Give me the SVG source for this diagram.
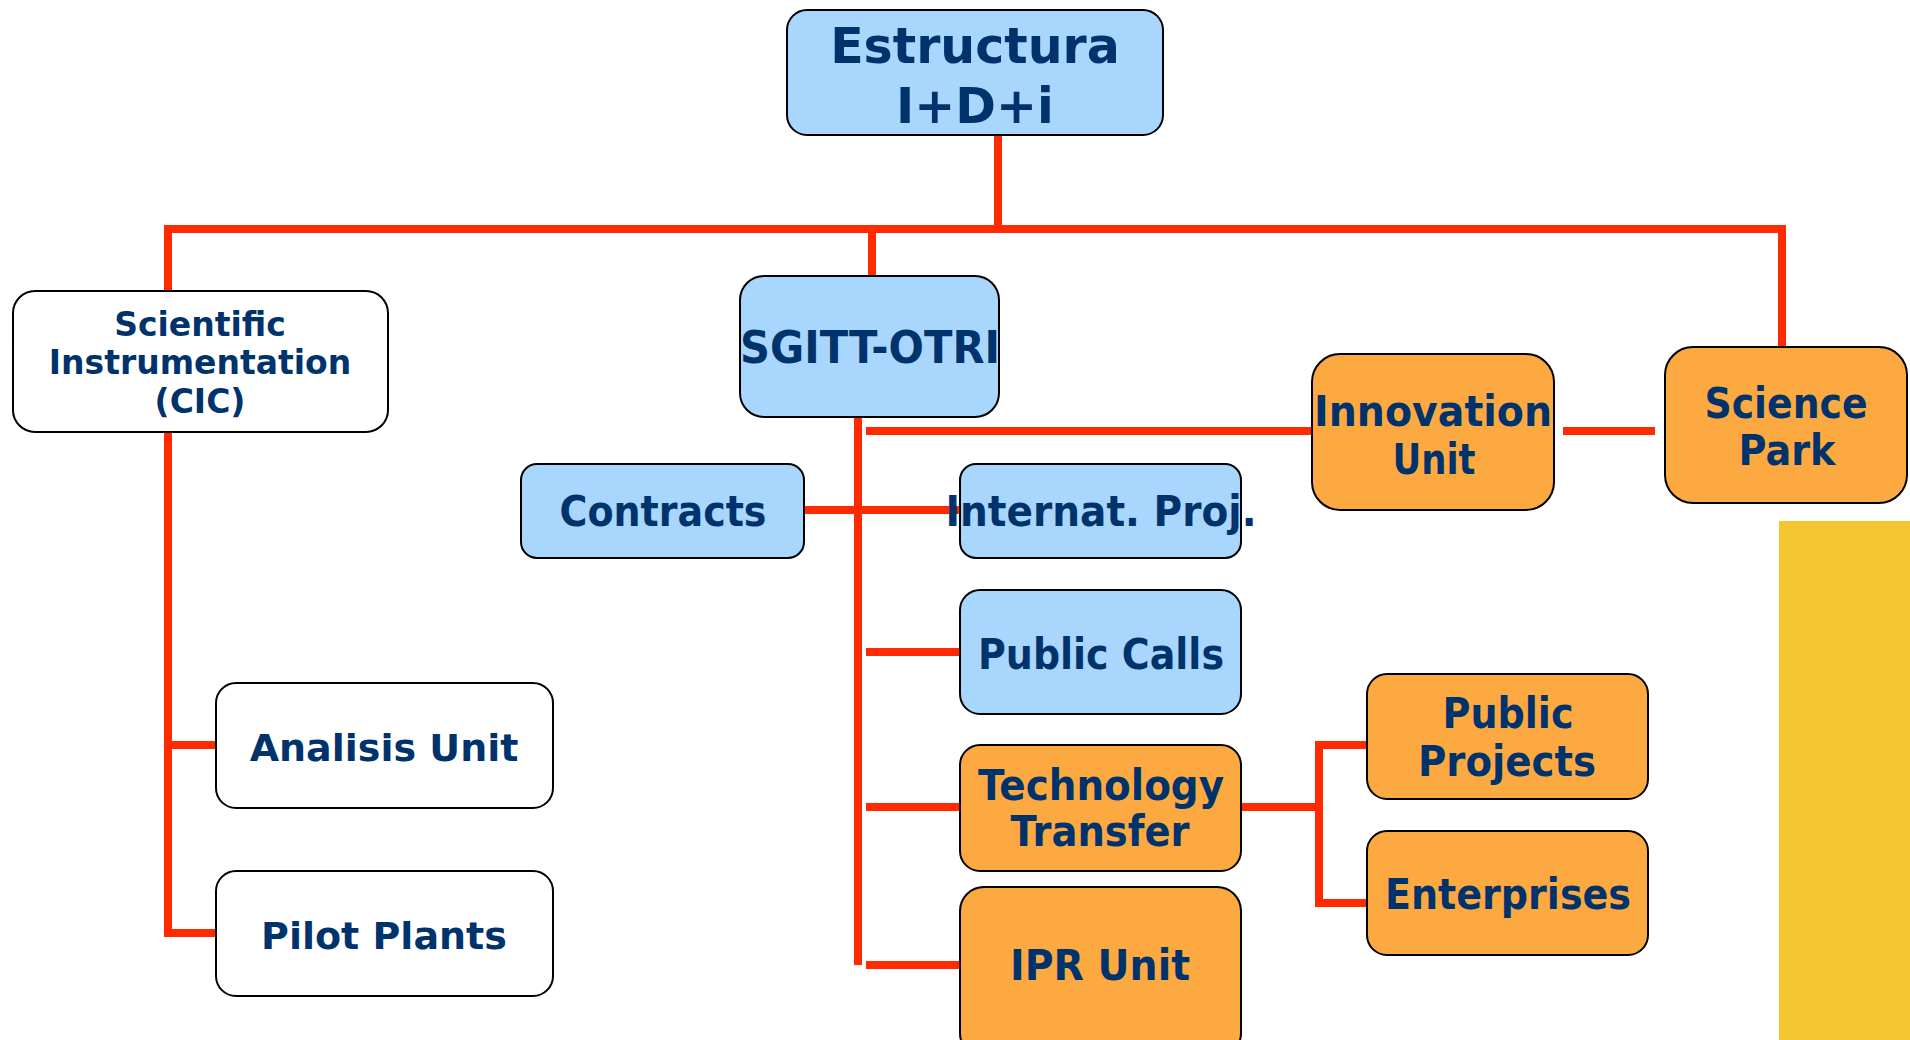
<svg xmlns="http://www.w3.org/2000/svg" width="1910" height="1040" viewBox="0 0 1910 1040">
<style>
.box{stroke:#000;stroke-width:2}
.blue{fill:#A9D6FD}
.orange{fill:#FDA942}
.white{fill:#fff}
.t{font-family:"DejaVu Sans","Verdana",sans-serif;font-weight:bold;fill:#00336B;text-anchor:middle}
.ln{stroke:#FF2A00;stroke-width:8;fill:none;stroke-linecap:butt}
</style>
<rect width="1910" height="1040" fill="#fff"/>
<rect x="1779" y="521" width="131" height="519" fill="#F3C52E"/>
<g id="connectors">
<line class="ln" x1="998" y1="135" x2="998" y2="229"/>
<line class="ln" x1="168" y1="229" x2="1786" y2="229"/>
<line class="ln" x1="168" y1="225" x2="168" y2="291"/>
<line class="ln" x1="872" y1="225" x2="872" y2="276"/>
<line class="ln" x1="1782" y1="225" x2="1782" y2="353"/>
<line class="ln" x1="168" y1="432" x2="168" y2="937"/>
<line class="ln" x1="164" y1="745" x2="216" y2="745"/>
<line class="ln" x1="164" y1="933" x2="216" y2="933"/>
<line class="ln" x1="858" y1="417" x2="858" y2="965"/>
<line class="ln" x1="866" y1="431" x2="1312" y2="431"/>
<line class="ln" x1="1563" y1="431" x2="1655" y2="431"/>
<line class="ln" x1="804" y1="510" x2="960" y2="510"/>
<line class="ln" x1="866" y1="652" x2="960" y2="652"/>
<line class="ln" x1="866" y1="807" x2="960" y2="807"/>
<line class="ln" x1="866" y1="965" x2="960" y2="965"/>
<line class="ln" x1="1241" y1="807" x2="1319" y2="807"/>
<polyline class="ln" points="1367,745 1319,745 1319,903 1367,903"/>
</g>
<g id="estructura">
<rect class="box blue" x="787" y="10" width="376" height="125" rx="20"/>
<text class="t" x="975" y="63" font-size="49">Estructura</text>
<text class="t" x="975" y="123" font-size="49">I+D+i</text>
</g>
<g id="cic">
<rect class="box white" x="13" y="291" width="375" height="141" rx="22"/>
<text class="t" x="200" y="336" font-size="33">Scientific</text>
<text class="t" x="200" y="374" font-size="33">Instrumentation</text>
<text class="t" x="200" y="413" font-size="33">(CIC)</text>
</g>
<g id="analisis">
<rect class="box white" x="216" y="683" width="337" height="125" rx="20"/>
<text class="t" x="384" y="761" font-size="38">Analisis Unit</text>
</g>
<g id="pilot">
<rect class="box white" x="216" y="871" width="337" height="125" rx="20"/>
<text class="t" x="384" y="949" font-size="38">Pilot Plants</text>
</g>
<g id="sgitt">
<rect class="box blue" x="740" y="276" width="259" height="141" rx="24"/>
<text class="t" x="870" y="363" font-size="44" textLength="260" lengthAdjust="spacingAndGlyphs">SGITT-OTRI</text>
</g>
<g id="contracts">
<rect class="box blue" x="521" y="464" width="283" height="94" rx="16"/>
<text class="t" x="663" y="526" font-size="42" textLength="207" lengthAdjust="spacingAndGlyphs">Contracts</text>
</g>
<g id="internat">
<rect class="box blue" x="960" y="464" width="281" height="94" rx="16"/>
<text class="t" x="1101" y="526" font-size="42" textLength="311" lengthAdjust="spacingAndGlyphs">Internat. Proj.</text>
</g>
<g id="publiccalls">
<rect class="box blue" x="960" y="590" width="281" height="124" rx="20"/>
<text class="t" x="1101" y="669" font-size="42" textLength="246" lengthAdjust="spacingAndGlyphs">Public Calls</text>
</g>
<g id="techtransfer">
<rect class="box orange" x="960" y="745" width="281" height="126" rx="20"/>
<text class="t" x="1101" y="800" font-size="42" textLength="246" lengthAdjust="spacingAndGlyphs">Technology</text>
<text class="t" x="1100" y="846" font-size="42" textLength="179" lengthAdjust="spacingAndGlyphs">Transfer</text>
</g>
<g id="ipr">
<rect class="box orange" x="960" y="887" width="281" height="170" rx="24"/>
<text class="t" x="1100" y="980" font-size="42" textLength="180" lengthAdjust="spacingAndGlyphs">IPR Unit</text>
</g>
<g id="publicprojects">
<rect class="box orange" x="1367" y="674" width="281" height="125" rx="20"/>
<text class="t" x="1508" y="728" font-size="42" textLength="131" lengthAdjust="spacingAndGlyphs">Public</text>
<text class="t" x="1507" y="776" font-size="42" textLength="178" lengthAdjust="spacingAndGlyphs">Projects</text>
</g>
<g id="enterprises">
<rect class="box orange" x="1367" y="831" width="281" height="124" rx="20"/>
<text class="t" x="1508" y="909" font-size="42" textLength="246" lengthAdjust="spacingAndGlyphs">Enterprises</text>
</g>
<g id="innovation">
<rect class="box orange" x="1312" y="354" width="242" height="156" rx="28"/>
<text class="t" x="1433" y="426" font-size="42" textLength="238" lengthAdjust="spacingAndGlyphs">Innovation</text>
<text class="t" x="1434" y="474" font-size="42" textLength="83" lengthAdjust="spacingAndGlyphs">Unit</text>
</g>
<g id="sciencepark">
<rect class="box orange" x="1665" y="347" width="242" height="156" rx="28"/>
<text class="t" x="1786" y="418" font-size="42" textLength="163" lengthAdjust="spacingAndGlyphs">Science</text>
<text class="t" x="1787" y="465" font-size="42" textLength="97" lengthAdjust="spacingAndGlyphs">Park</text>
</g>
</svg>
